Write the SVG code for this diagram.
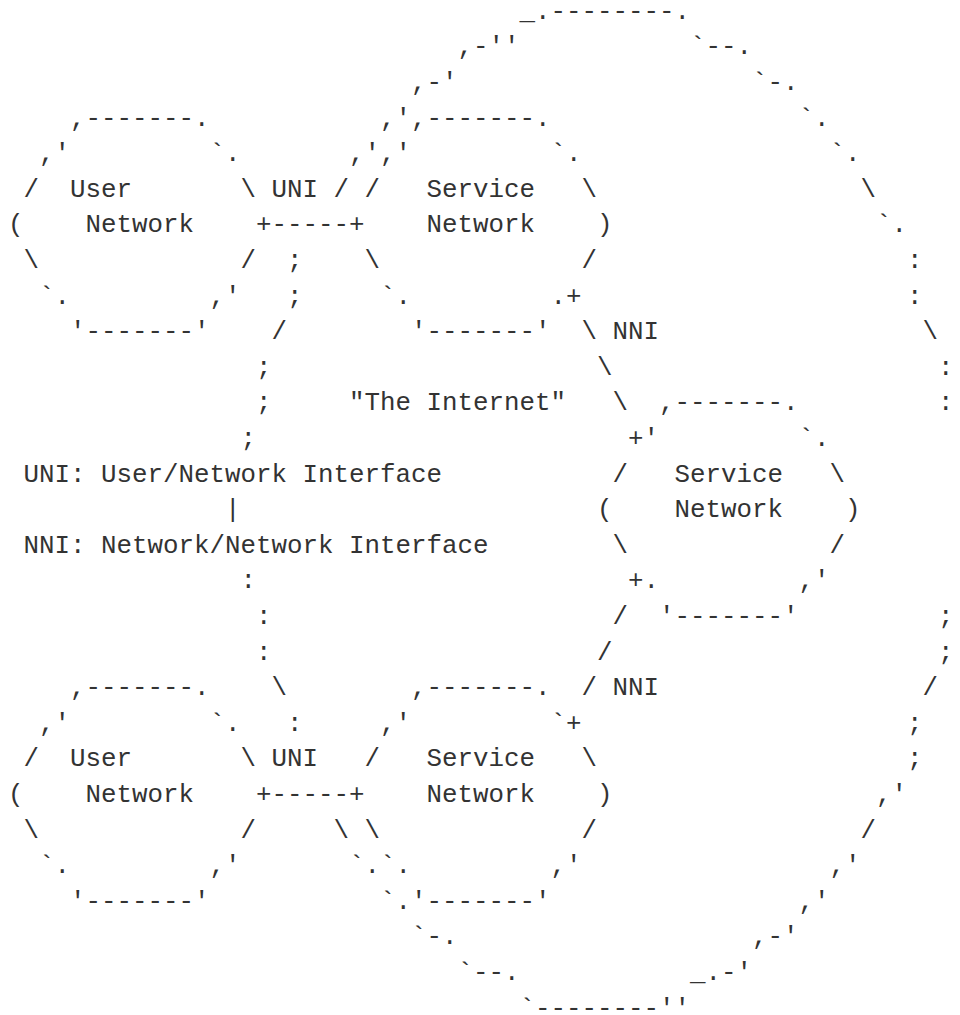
<svg xmlns="http://www.w3.org/2000/svg" width="960" height="1015" viewBox="0 0 960 1015" xml:space="preserve">
<style>
text { font-family: "Liberation Mono", "DejaVu Sans Mono", monospace; font-size: 25.83px; fill: #333333; white-space: pre; }
</style>
<rect x="0" y="0" width="960" height="1015" fill="#ffffff"/>
<g id="internet-cloud">
<text x="519.5" y="18.7">_.--------.</text>
<text x="457.5" y="54.3">,-''</text><text x="690" y="54.3">`--.</text>
<text x="411" y="89.9">,-'</text><text x="752" y="89.9">`-.</text>
<text x="380" y="125.5">,'</text><text x="798.5" y="125.5">`.</text>
<text x="349" y="161.1">,'</text><text x="829.5" y="161.1">`.</text>
<text x="333.5" y="196.7">/</text><text x="860.5" y="196.7">\</text>
<text x="876" y="232.3">`.</text>
<text x="287" y="267.9">;</text><text x="907" y="267.9">:</text>
<text x="287" y="303.5">;</text><text x="907" y="303.5">:</text>
<text x="271.5" y="339.1">/</text><text x="922.5" y="339.1">\</text>
<text x="256" y="374.7">;</text><text x="938" y="374.7">:</text>
<text x="256" y="410.3">;</text><text x="938" y="410.3">:</text>
<text id="internet-label" x="349" y="410.3">"The Internet"</text>
<text x="240.5" y="445.9">;</text>
<text x="225" y="517.1">|</text>
<text x="240.5" y="588.3">:</text>
<text x="256" y="623.9">:</text><text x="938" y="623.9">;</text>
<text x="256" y="659.5">:</text><text x="938" y="659.5">;</text>
<text x="271.5" y="695.1">\</text><text x="922.5" y="695.1">/</text>
<text x="287" y="730.7">:</text><text x="907" y="730.7">;</text>
<text x="907" y="766.3">;</text>
<text x="876" y="801.9">,'</text>
<text x="333.5" y="837.5">\</text><text x="860.5" y="837.5">/</text>
<text x="349" y="873.1">`.</text><text x="829.5" y="873.1">,'</text>
<text x="380" y="908.7">`.</text><text x="798.5" y="908.7">,'</text>
<text x="411" y="944.3">`-.</text><text x="752" y="944.3">,-'</text>
<text x="457.5" y="979.9">`--.</text><text x="690" y="979.9">_.-'</text>
<text x="519.5" y="1015.5">`--------''</text>
</g>
<g id="user-network-1">
<text x="70" y="125.5">,-------.</text>
<text x="39" y="161.1">,'         `.</text>
<text x="23.5" y="196.7">/  User       \</text>
<text x="8" y="232.3">(    Network</text>
<text x="23.5" y="267.9">\             /</text>
<text x="39" y="303.5">`.         ,'</text>
<text x="70" y="339.1">'-------'</text>
</g>
<g id="service-network-1">
<text x="411" y="125.5">,-------.</text>
<text x="380" y="161.1">,'         `.</text>
<text x="364.5" y="196.7">/   Service   \</text>
<text x="426.5" y="232.3">Network    )</text>
<text x="364.5" y="267.9">\             /</text>
<text x="380" y="303.5">`.         .</text>
<text x="411" y="339.1">'-------'</text>
</g>
<g id="service-network-2">
<text x="659" y="410.3">,-------.</text>
<text x="643.5" y="445.9">'         `.</text>
<text x="612.5" y="481.5">/   Service   \</text>
<text x="597" y="517.1">(    Network    )</text>
<text x="612.5" y="552.7">\             /</text>
<text x="643.5" y="588.3">.         ,'</text>
<text x="659" y="623.9">'-------'</text>
</g>
<g id="user-network-2">
<text x="70" y="695.1">,-------.</text>
<text x="39" y="730.7">,'         `.</text>
<text x="23.5" y="766.3">/  User       \</text>
<text x="8" y="801.9">(    Network</text>
<text x="23.5" y="837.5">\             /</text>
<text x="39" y="873.1">`.         ,'</text>
<text x="70" y="908.7">'-------'</text>
</g>
<g id="service-network-3">
<text x="411" y="695.1">,-------.</text>
<text x="380" y="730.7">,'         `</text>
<text x="364.5" y="766.3">/   Service   \</text>
<text x="426.5" y="801.9">Network    )</text>
<text x="364.5" y="837.5">\             /</text>
<text x="380" y="873.1">`.         ,'</text>
<text x="411" y="908.7">'-------'</text>
</g>
<g id="connectors">
<g id="uni-top">
<text x="271.5" y="196.7">UNI</text>
<text x="256" y="232.3">+-----+</text>
</g>
<g id="nni-top">
<text x="566" y="303.5">+</text>
<text x="581.5" y="339.1">\ NNI</text>
<text x="597" y="374.7">\</text>
<text x="612.5" y="410.3">\</text>
<text x="628" y="445.9">+</text>
</g>
<g id="nni-bottom">
<text x="628" y="588.3">+</text>
<text x="612.5" y="623.9">/</text>
<text x="597" y="659.5">/</text>
<text x="581.5" y="695.1">/ NNI</text>
<text x="566" y="730.7">+</text>
</g>
<g id="uni-bottom">
<text x="271.5" y="766.3">UNI</text>
<text x="256" y="801.9">+-----+</text>
</g>
</g>
<g id="legend">
<text x="23.5" y="481.5">UNI: User/Network Interface</text>
<text x="23.5" y="552.7">NNI: Network/Network Interface</text>
</g>
</svg>
